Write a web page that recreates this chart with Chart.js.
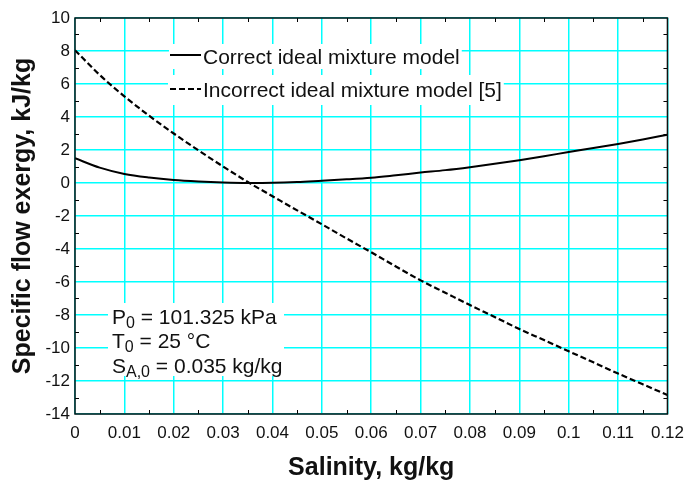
<!DOCTYPE html>
<html>
<head>
<meta charset="utf-8">
<script src="https://cdn.jsdelivr.net/npm/chart.js@4.4.1/dist/chart.umd.min.js"></script>
<style>
    html, body { margin: 0; padding: 0; background: #fff; }
</style>
</head>
<body>
<canvas id="grafico" width="693" height="482"></canvas>
<script>
// Datos (exergía de flujo específica, kJ/kg)
const salinity = [0, 0.005, 0.01, 0.015, 0.02, 0.025, 0.03, 0.035, 0.04, 0.045, 0.05, 0.055, 0.06,
                  0.065, 0.07, 0.075, 0.08, 0.085, 0.09, 0.095, 0.1, 0.105, 0.11, 0.115, 0.12];
const correctModel = [1.50, 0.93, 0.55, 0.33, 0.18, 0.09, 0.03, 0.00, 0.01, 0.06, 0.14, 0.22, 0.32,
                      0.47, 0.63, 0.78, 0.96, 1.16, 1.38, 1.62, 1.88, 2.12, 2.37, 2.64, 2.93];
const incorrectModel = [8.05, 6.55, 5.25, 4.08, 3.00, 1.98, 1.00, 0.06, -0.80, -1.66, -2.50, -3.36, -4.20,
                        -5.06, -5.90, -6.65, -7.40, -8.12, -8.85, -9.52, -10.20, -10.87, -11.55, -12.20, -12.85];

const xTickValues = [0, 0.01, 0.02, 0.03, 0.04, 0.05, 0.06, 0.07, 0.08, 0.09, 0.1, 0.11, 0.12];
const xTickLabels = ["0", "0.01", "0.02", "0.03", "0.04", "0.05", "0.06", "0.07", "0.08", "0.09", "0.1", "0.11", "0.12"];
const yTickValues = [-14, -12, -10, -8, -6, -4, -2, 0, 2, 4, 6, 8, 10];
const yTickLabels = ["-14", "-12", "-10", "-8", "-6", "-4", "-2", "0", "2", "4", "6", "8", "10"];
const xMinor = [0.005, 0.015, 0.025, 0.035, 0.045, 0.055, 0.065, 0.075, 0.085, 0.095, 0.105, 0.115];
const yMinor = [-13, -11, -9, -7, -5, -3, -1, 1, 3, 5, 7, 9];

const seriesNames = ["Correct ideal mixture model", "Incorrect ideal mixture model [5]"];

const FAMILY = "Arial, 'Liberation Sans', Helvetica, sans-serif";
const CYAN = "#00ffff";
const DASH = [6, 3];

const puntos = (ys) => salinity.map((x, i) => ({ x, y: ys[i] }));

// Cajas blancas (leyenda y texto de condiciones) sobre la rejilla
const cajasPlugin = {
    id: "cajas",
    beforeDatasetsDraw(chart) {
        const ctx = chart.ctx;
        ctx.save();
        ctx.fillStyle = "#fff";
        ctx.font = `21px ${FAMILY}`;
        const w1 = ctx.measureText(seriesNames[0]).width;
        const w2 = ctx.measureText(seriesNames[1]).width;
        ctx.fillRect(169, 44, 203 + w1 + 2 - 169, 25);
        ctx.fillRect(168, 75, 203 + w2 + 2 - 168, 30);
        ctx.fillRect(108, 303, 176, 73);
        ctx.restore();
    },
    afterDatasetsDraw(chart) {
        const ctx = chart.ctx;
        ctx.save();
        ctx.fillStyle = "#111";
        ctx.strokeStyle = "#000";
        ctx.lineWidth = 2;

        // leyenda
        ctx.beginPath(); ctx.moveTo(170, 55); ctx.lineTo(201, 55); ctx.stroke();
        ctx.setLineDash(DASH);
        ctx.beginPath(); ctx.moveTo(170, 89); ctx.lineTo(201, 89); ctx.stroke();
        ctx.setLineDash([]);
        ctx.font = `21px ${FAMILY}`;
        ctx.textBaseline = "alphabetic";
        ctx.fillText(seriesNames[0], 203, 64);
        ctx.fillText(seriesNames[1], 203, 97);

        // condiciones de referencia, con subíndices
        const linea = (base, sub, resto, y) => {
            let x = 112;
            ctx.font = `21px ${FAMILY}`;
            ctx.fillText(base, x, y);
            x += ctx.measureText(base).width;
            ctx.font = `16px ${FAMILY}`;
            ctx.fillText(sub, x, y + 4);
            x += ctx.measureText(sub).width;
            ctx.font = `21px ${FAMILY}`;
            ctx.fillText(resto, x, y);
        };
        linea("P", "0", " = 101.325 kPa", 324);
        linea("T", "0", " = 25 °C", 348);
        linea("S", "A,0", " = 0.035 kg/kg", 373);
        ctx.restore();
    },
    afterDraw(chart) {
        const { ctx, chartArea: a, scales } = chart;
        ctx.save();
        ctx.strokeStyle = "#000";
        ctx.lineWidth = 1;
        ctx.beginPath();
        xMinor.forEach((v) => {
            const px = Math.round(scales.x.getPixelForValue(v)) + 0.5;
            ctx.moveTo(px, a.bottom); ctx.lineTo(px, a.bottom - 4);
            ctx.moveTo(px, a.top); ctx.lineTo(px, a.top + 4);
        });
        yMinor.forEach((v) => {
            const py = Math.round(scales.y.getPixelForValue(v)) + 0.5;
            ctx.moveTo(a.left, py); ctx.lineTo(a.left + 4, py);
            ctx.moveTo(a.right, py); ctx.lineTo(a.right - 4, py);
        });
        ctx.stroke();
        ctx.lineWidth = 1.5;
        ctx.strokeStyle = "#111";
        ctx.strokeRect(a.left, a.top, a.right - a.left, a.bottom - a.top);
        ctx.restore();
    },
};

new Chart(document.getElementById("grafico").getContext("2d"), {
    type: "scatter",
    data: {
        datasets: [
            {
                label: seriesNames[0],
                data: puntos(correctModel),
                showLine: true,
                borderColor: "#000",
                borderWidth: 2,
                pointRadius: 0,
                cubicInterpolationMode: "monotone",
            },
            {
                label: seriesNames[1],
                data: puntos(incorrectModel),
                showLine: true,
                borderColor: "#000",
                borderWidth: 2.2,
                borderDash: DASH,
                pointRadius: 0,
                cubicInterpolationMode: "monotone",
            },
        ],
    },
    options: {
        responsive: false,
        animation: false,
        events: [],
        layout: { padding: { top: 18, right: 21, left: 0, bottom: 0 } },
        plugins: { legend: { display: false }, tooltip: { enabled: false } },
        scales: {
            x: {
                type: "linear",
                min: 0,
                max: 0.12,
                afterBuildTicks: (s) => { s.ticks = xTickValues.map((v) => ({ value: v })); },
                afterFit: (s) => { s.height = 68; },
                ticks: {
                    callback: (v) => xTickLabels[xTickValues.findIndex((t) => Math.abs(t - v) < 1e-9)],
                    color: "#111",
                    font: { family: FAMILY, size: 17 },
                    padding: 9,
                    maxRotation: 0,
                    autoSkip: false,
                },
                grid: { color: CYAN, lineWidth: 1.5, drawTicks: false },
                border: { display: false },
                title: {
                    display: true,
                    text: "Salinity, kg/kg",
                    color: "#111",
                    font: { family: FAMILY, size: 25, weight: "bold", lineHeight: 1 },
                    padding: { top: 0, bottom: 1 },
                },
            },
            y: {
                type: "linear",
                min: -14,
                max: 10,
                afterBuildTicks: (s) => { s.ticks = yTickValues.map((v) => ({ value: v })); },
                afterFit: (s) => { s.width = 75; },
                ticks: {
                    callback: (v) => yTickLabels[yTickValues.indexOf(v)],
                    color: "#111",
                    font: { family: FAMILY, size: 17 },
                    padding: 5,
                    autoSkip: false,
                },
                grid: { color: CYAN, lineWidth: 1.5, drawTicks: false },
                border: { display: false },
                title: {
                    display: true,
                    text: "Specific flow exergy, kJ/kg",
                    color: "#111",
                    font: { family: FAMILY, size: 25, weight: "bold", lineHeight: 1 },
                    padding: { top: 11, bottom: 0 },
                },
            },
        },
    },
    plugins: [cajasPlugin],
});
</script>
</body>
</html>
